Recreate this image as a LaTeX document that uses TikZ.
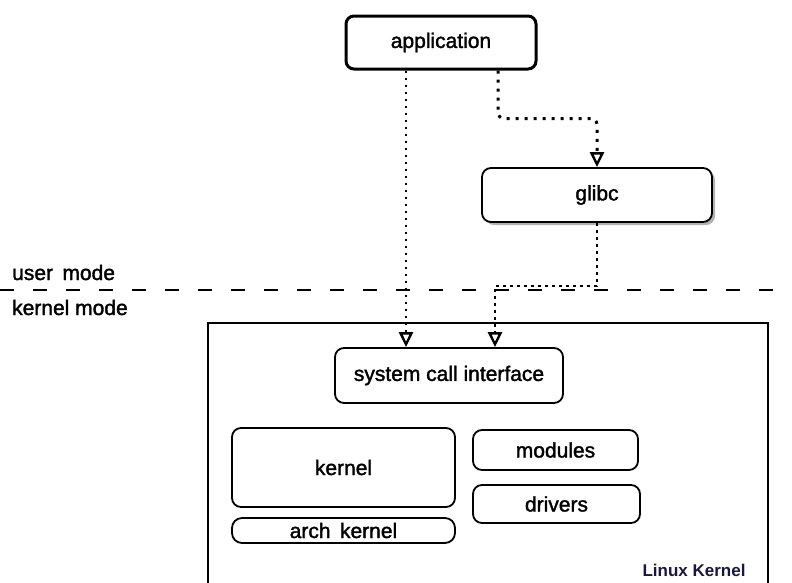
\documentclass[tikz,border=0pt]{standalone}
\usepackage{fontspec}
\setmainfont{Liberation Sans}
\newfontfamily\medfont[FakeBold=1.6]{Liberation Sans}
\usetikzlibrary{arrows.meta,shadows}
\definecolor{navyink}{RGB}{24,24,60}
\begin{document}
\begin{tikzpicture}[x=1pt,y=-1pt,
  box/.style={draw, line width=1.8pt, rounded corners=9pt, fill=white, inner sep=0pt,
              font=\medfont\fontsize{21}{24}\selectfont},
  dotl/.style={line width=2.6pt, dash pattern=on 2.6pt off 4.4pt},
  dotheavy/.style={line width=3pt, dash pattern=on 3pt off 6pt, rounded corners=6pt},
  tip/.style={-{Triangle[open,length=15pt,width=14pt,line width=2.4pt]}},
  modetext/.style={font=\medfont\fontsize{21}{24}\selectfont, inner sep=0pt, anchor=base west},
  sepline/.style={line width=2pt, dash pattern=on 14pt off 19pt},
  shade/.style={drop shadow={shadow xshift=3pt, shadow yshift=-3pt, fill=black!55, opacity=0.55}},
]
\clip (0,0) rectangle (792,582);
\fill[white] (0,0) rectangle (792,582);

% separator between user and kernel mode
\coordinate (sepL) at (0,290);
\coordinate (sepR) at (792,290);
\draw[sepline] (sepL) -- (sepR);
\node[modetext] (um) at (12,280) {user\hspace{0.45em}mode};
\node[modetext] (km) at (12,315) {kernel mode};

% Linux kernel frame (runs off the bottom edge)
\node[draw, line width=1.8pt, minimum width=560pt, minimum height=320pt, inner sep=0pt,
      anchor=north west] (lk) at (207,322) {};
\node[font=\fontsize{17}{20}\selectfont\bfseries, text=navyink, inner sep=0pt, anchor=base]
      (lkl) at (694,576) {Linux Kernel};

% boxes
\node[box, line width=3pt, rounded corners=8pt, minimum width=190pt, minimum height=53pt] (app) at (441,42.5) {application};
\node[box, shade, minimum width=230pt, minimum height=54pt] (glibc) at (597,195) {glibc};
\node[box, minimum width=228pt, minimum height=55pt] (sci) at (449,375.5) {system call interface};
\node[box, minimum width=223pt, minimum height=79pt] (kern) at (343.5,467.5) {kernel};
\node[box, rounded corners=10pt, minimum width=223pt, minimum height=25pt] (arch) at (343.5,530.5) {arch\hspace{0.45em}kernel};
\node[box, minimum width=165pt, minimum height=40pt] (mod) at (555.5,450) {modules};
\node[box, minimum width=167pt, minimum height=38pt] (drv) at (556.5,504) {drivers};

% connectors
\draw[dotl, tip] ([xshift=-35pt]app.south) -- ([xshift=-35pt]app.south |- sci.north);
\draw[dotheavy, tip] ([xshift=57pt]app.south) -- ++(0,48) -| (glibc.north);
\draw[dotl, tip] (glibc.south) -- ++(0,63) -| ([xshift=46pt]sci.north);
\end{tikzpicture}
\end{document}
